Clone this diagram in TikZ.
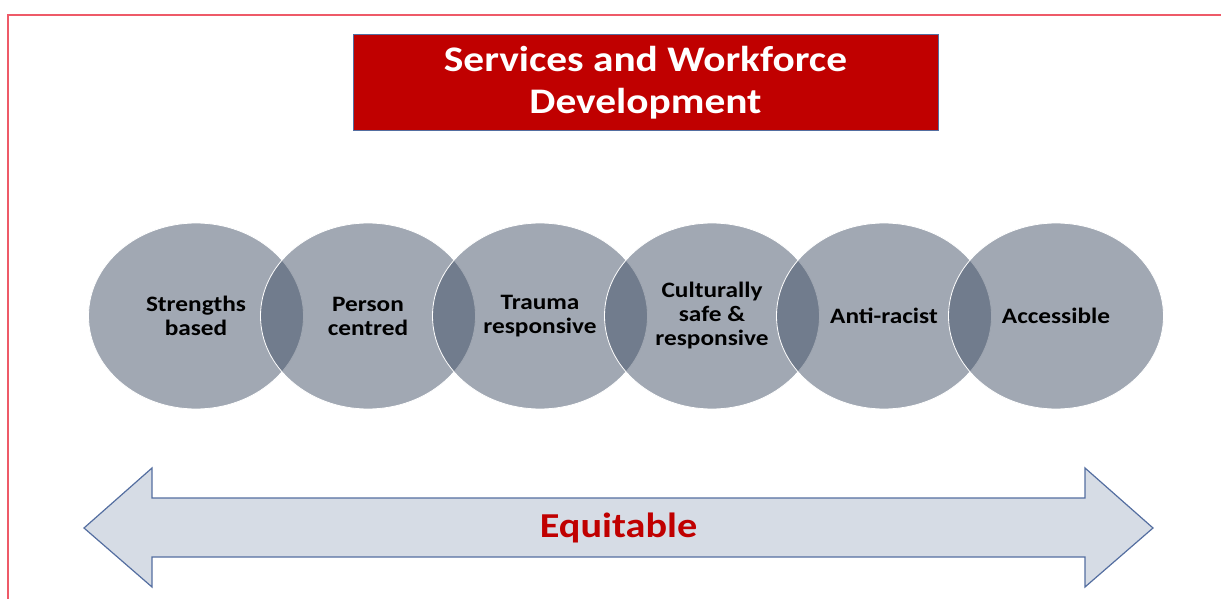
\documentclass[tikz,border=0pt]{standalone}
\usepackage{fontspec}
\setmainfont{Carlito}[FakeStretch=1.15]
\usepackage{tikz}
\usetikzlibrary{shapes.geometric}
\definecolor{framered}{RGB}{238,90,104}
\definecolor{titlered}{RGB}{192,0,0}
\definecolor{slate}{RGB}{67,81,103}
\definecolor{arrowfill}{RGB}{214,220,229}
\definecolor{arrowline}{RGB}{84,110,160}
\tikzstyle{ring}=[ellipse, draw=white, line width=0.8pt, fill=slate,% half see-through so overlaps get darker
fill opacity=0.5, text opacity=1, minimum width=215pt, minimum height=186pt,
inner sep=0pt, align=center, font=\fontsize{22}{24}\selectfont\bfseries]
\tikzstyle{banner}=[rectangle, draw=arrowline, line width=1pt, fill=titlered,
text=white, minimum width=585pt, minimum height=96pt, inner sep=0pt,
align=center, font=\fontsize{36}{42}\selectfont\bfseries]

\begin{document}
\begin{tikzpicture}[x=1pt,y=1pt]
\useasboundingbox (0,0) rectangle (1221,598);
\clip (0,0) rectangle (1221,598);
%\fill[white] (0,0) rectangle (1221,598);
\draw[framered, line width=2.4pt] (8,-5) -- (8,583) -- (1230,583);
\node[banner] (title) at (645.5,515) {Services and Workforce\\Development};
\node[ring] (v1) at (196,282) {Strengths\\based};
\node[ring] (v2) at (368,282) {Person\\centred};
\node[ring] (v3) at (540,282) {Trauma\\responsive};
\node[ring] (v4) at (712,282) {Culturally\\safe \&\\responsive};
\node[ring] (v5) at (884,282) {Anti-racist};
\node[ring] (v6) at (1056,282) {Accessible};
\draw[arrowline, fill=arrowfill, line width=1.2pt] (84,70) -- (152,130) -- (152,100) -- (1085,100) -- (1085,130) -- (1153,70)
  -- (1085,11) -- (1085,41) -- (152,41) -- (152,11) -- cycle;
\node[text=titlered, font=\fontsize{35}{42}\selectfont\bfseries] (eq) at (618.5,70) {Equitable};
\end{tikzpicture}
\end{document}
